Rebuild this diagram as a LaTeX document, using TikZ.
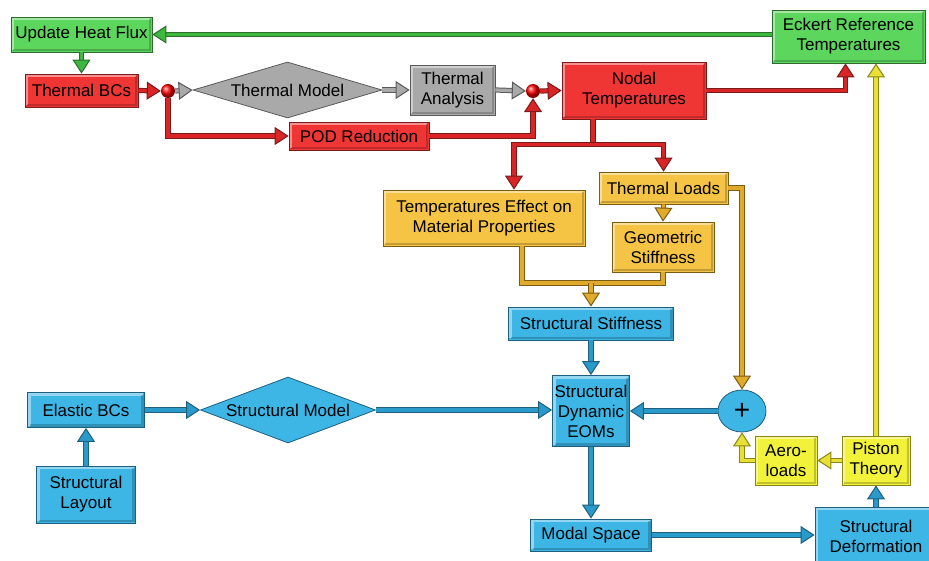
\documentclass[tikz,border=0pt]{standalone}
\usepackage{fontspec}
\setmainfont{Liberation Sans}
\usetikzlibrary{arrows.meta,shapes.geometric,calc}

\definecolor{boxgreen}{HTML}{5CD65C}
\definecolor{linegreen}{HTML}{3CB93C}
\definecolor{darkgreen}{HTML}{2F6B2F}
\definecolor{boxred}{HTML}{F03535}
\definecolor{linered}{HTML}{D92525}
\definecolor{darkred}{HTML}{7A1A1A}
\definecolor{boxgrey}{HTML}{A9A9A9}
\definecolor{darkgrey}{HTML}{5A5A5A}
\definecolor{boxorange}{HTML}{F5C445}
\definecolor{lineorange}{HTML}{E0AA2A}
\definecolor{darkorange}{HTML}{7A5C14}
\definecolor{boxblue}{HTML}{3DB6E6}
\definecolor{lineblue}{HTML}{2A9ACB}
\definecolor{darkblue}{HTML}{1D5F7C}
\definecolor{boxyellow}{HTML}{F2F23A}
\definecolor{lineyellow}{HTML}{E8E035}
\definecolor{darkyellow}{HTML}{8A8515}

\tikzset{
  bevel/.style={path picture={
    \draw[white, opacity=0.45, line width=2.5pt] ([shift={(2pt,2pt)}]path picture bounding box.south west)
      |- ([shift={(-2pt,-2pt)}]path picture bounding box.north east);
    \draw[black, opacity=0.2, line width=2.5pt] ([shift={(2pt,2pt)}]path picture bounding box.south west)
      -| ([shift={(-2pt,-2pt)}]path picture bounding box.north east);}},
  blk/.style={rectangle, line width=0.8pt, align=center, inner sep=1pt, bevel, font=\fontsize{17}{20}\selectfont},
  gbox/.style={blk, draw=darkgreen, fill=boxgreen},
  rbox/.style={blk, draw=darkred, fill=boxred},
  greybox/.style={blk, draw=darkgrey, fill=boxgrey},
  obox/.style={blk, draw=darkorange, fill=boxorange},
  bbox/.style={blk, draw=darkblue, fill=boxblue},
  ybox/.style={blk, draw=darkyellow, fill=boxyellow},
  dia/.style={diamond, line width=0.8pt, inner sep=0pt, font=\fontsize{17}{20}\selectfont},
  ball/.style={circle, inner sep=0pt, minimum size=14pt, shading=ball, ball color=red},
  flow/.style 2 args={draw=#2, double=#1, double distance=3.2pt, line width=1pt, line join=miter,
    -{Triangle[length=14pt,width=18pt,fill=#1]}},
  link/.style 2 args={draw=#2, double=#1, double distance=3.2pt, line width=1pt, line join=miter}
}

\begin{document}
\begin{tikzpicture}[x=1pt, y=-1pt]
  \useasboundingbox (0,0) rectangle (929,561);
  \clip (0,0) rectangle (929,561);

  % thermal part
  \node[gbox, minimum width=141pt, minimum height=35pt] (uhf) at (81.5,34.5) {Update Heat Flux};
  \node[gbox, minimum width=153pt, minimum height=53pt] (eckert) at (848.5,36.5) {Eckert Reference\\Temperatures};
  \node[rbox, minimum width=113pt, minimum height=33pt] (thbc) at (81.5,90.5) {Thermal BCs};
  \node[ball] (dot1) at (168,91) {};
  \node[dia, draw=darkgrey, fill=boxgrey, aspect=3.4, minimum width=189pt, minimum height=56pt] (thmodel) at (287.5,90) {Thermal Model};
  \node[greybox, minimum width=85pt, minimum height=50pt] (than) at (452.5,90) {Thermal\\Analysis};
  \node[ball] (dot2) at (533,91) {};
  \node[rbox, minimum width=144pt, minimum height=57pt] (nodal) at (634,90.5) {Nodal\\Temperatures};
  \node[rbox, minimum width=140pt, minimum height=28pt] (pod) at (359,136) {POD Reduction};

  % loads and stiffness
  \node[obox, minimum width=202pt, minimum height=56pt] (tempeff) at (484,218) {Temperatures Effect on\\Material Properties};
  \node[obox, minimum width=129pt, minimum height=32pt] (tload) at (663.5,188) {Thermal Loads};
  \node[obox, minimum width=102pt, minimum height=50pt] (geo) at (663,247) {Geometric\\Stiffness};
  \node[bbox, minimum width=165pt, minimum height=33pt] (stiff) at (591,323.5) {Structural Stiffness};

  % structural part
  \node[bbox, minimum width=117pt, minimum height=35pt] (elastic) at (86,410) {Elastic BCs};
  \node[bbox, minimum width=99pt, minimum height=57pt] (layout) at (86,494.5) {Structural\\Layout};
  \node[dia, draw=darkblue, fill=boxblue, aspect=2.65, minimum width=175pt, minimum height=66pt] (strmodel) at (288,410) {Structural Model};
  \node[bbox, minimum width=77pt, minimum height=71pt] (eoms) at (591,411) {Structural\\Dynamic\\EOMs};
  \node[ellipse, draw=darkblue, fill=boxblue, line width=0.8pt, inner sep=0pt, minimum width=48pt, minimum height=42pt,
    font=\fontsize{28}{28}\selectfont] (plus) at (742,411) {+};
  \node[ybox, minimum width=62pt, minimum height=49pt] (aero) at (786,460.5) {Aero-\\loads};
  \node[ybox, minimum width=68pt, minimum height=49pt] (piston) at (876,460.5) {Piston\\Theory};
  \node[bbox, minimum width=121pt, minimum height=32pt] (modal) at (591,535) {Modal Space};
  \node[bbox, minimum width=122pt, minimum height=58pt] (deform) at (876,536) {Structural\\Deformation};

  % green
  \draw[flow={linegreen}{darkgreen}] (eckert.west |- uhf.east) -- (uhf.east);
  \draw[flow={linegreen}{darkgreen}] (uhf.south) -- (thbc.north);

  % red and grey
  \draw[flow={linered}{darkred}] (thbc.east) -- (dot1.west);
  \draw[flow={boxgrey}{darkgrey}] (dot1.east) -- (thmodel.west);
  \draw[flow={boxgrey}{darkgrey}] (thmodel.east) -- (than.west);
  \draw[flow={boxgrey}{darkgrey}] (than.east) -- (dot2.west);
  \draw[flow={linered}{darkred}] (dot2.east) -- (nodal.west);
  \draw[flow={linered}{darkred}] (dot1.south) |- (pod.west);
  \draw[flow={linered}{darkred}] (pod.east) -| (dot2.south);
  \draw[flow={linered}{darkred}] (nodal.east) -| ([xshift=-3pt]eckert.south);
  \coordinate (nsplit) at ([xshift=-41pt]nodal.south);
  \draw[link={linered}{darkred}] (nsplit) -- ++(0,25) coordinate (nmid);
  \draw[flow={linered}{darkred}] (nmid) -| ([xshift=30pt]tempeff.north);
  \draw[flow={linered}{darkred}] (nmid) -| (tload.north);

  % orange
  \draw[flow={lineorange}{darkorange}] (tload.south) -- (geo.north);
  \coordinate (omerge) at (591,283);
  \draw[link={lineorange}{darkorange}] ([xshift=38pt]tempeff.south) |- (omerge);
  \draw[link={lineorange}{darkorange}] (geo.south) |- (omerge);
  \draw[flow={lineorange}{darkorange}] (omerge) -- (stiff.north);
  \draw[flow={lineorange}{darkorange}] (tload.east) -| (plus.north);

  % blue
  \draw[flow={lineblue}{darkblue}] (stiff.south) -- (eoms.north);
  \draw[flow={lineblue}{darkblue}] (plus.west) -- (eoms.east);
  \draw[flow={lineblue}{darkblue}] (eoms.south) -- (modal.north);
  \draw[flow={lineblue}{darkblue}] (modal.east) -- (modal.east -| deform.west);
  \draw[flow={lineblue}{darkblue}] (deform.north) -- (piston.south);
  \draw[flow={lineblue}{darkblue}] (layout.north) -- (elastic.south);
  \draw[flow={lineblue}{darkblue}] (elastic.east) -- (strmodel.west);
  \draw[flow={lineblue}{darkblue}] (strmodel.east) -- (strmodel.east -| eoms.west);

  % yellow
  \draw[flow={lineyellow}{darkyellow}] (piston.west) -- (aero.east);
  \draw[flow={lineyellow}{darkyellow}] (aero.west) -| (plus.south);
  \draw[flow={lineyellow}{darkyellow}] (piston.north) -- (piston.north |- eckert.south);
\end{tikzpicture}
\end{document}
